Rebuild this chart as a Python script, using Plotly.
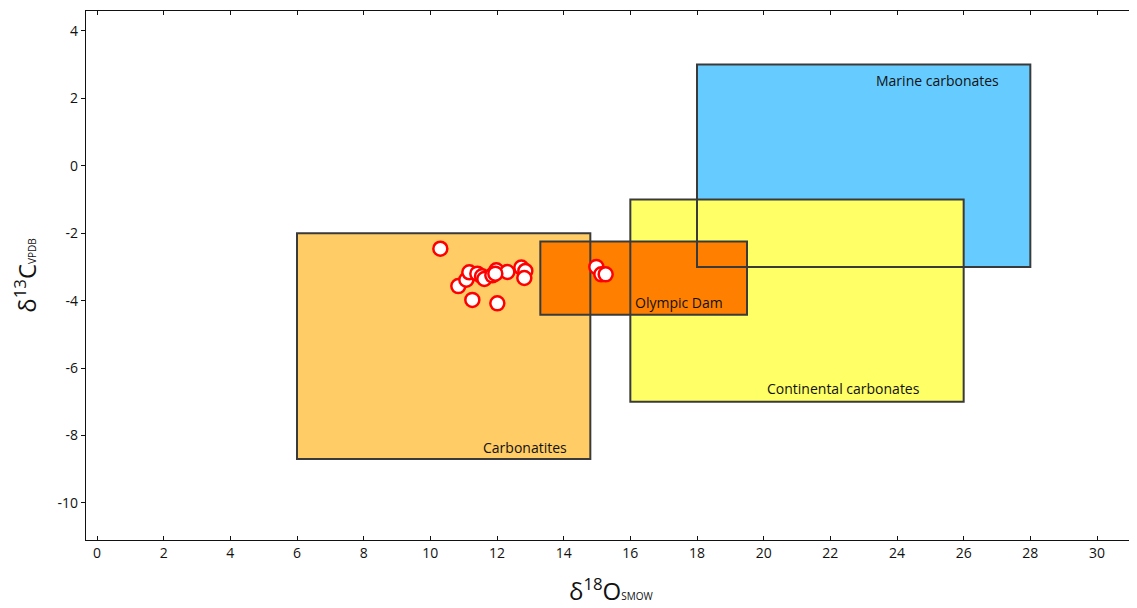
import plotly.graph_objects as go

# Sample data (d18O SMOW, d13C VPDB)
d18O = [10.30, 10.84, 11.08, 11.17, 11.41, 11.26, 11.55, 11.62, 11.86, 11.98,
        12.01, 12.31, 12.73, 12.85, 12.82, 14.98, 15.13, 15.26, 11.95]
d13C = [-2.46, -3.57, -3.38, -3.16, -3.20, -3.98, -3.28, -3.36, -3.25, -3.10,
        -4.08, -3.15, -3.02, -3.12, -3.33, -3.00, -3.22, -3.22, -3.20]

# Reference fields: name, x0, x1, y0, y1, colour
field_names = ["Carbonatites", "Marine carbonates", "Continental carbonates", "Olympic Dam"]
field_x0 = [6.0, 18.0, 16.0, 13.3]
field_x1 = [14.8, 28.0, 26.0, 19.5]
field_y0 = [-8.7, -3.0, -7.0, -4.42]
field_y1 = [-2.0, 3.0, -1.0, -2.25]
field_colors = ["#FFCC66", "#66CCFF", "#FFFF66", "#FF8000"]
label_x = [12.84, 25.2, 22.38, 17.46]
label_y = [-8.35, 2.52, -6.62, -4.07]

x_ticks = list(range(0, 31, 2))
y_ticks = list(range(-10, 5, 2))
y_ticktext = [str(v) for v in y_ticks]  # hyphen minus, as in the reference

x_title = "δ<sup>18</sup>O<span style='font-size:10px'>SMOW</span>"
y_title = "δ<sup>13</sup>C<span style='font-size:10px'>VPDB</span>"

shapes = []
for x0, x1, y0, y1, c in zip(field_x0, field_x1, field_y0, field_y1, field_colors):
    shapes.append(dict(type="rect", xref="x", yref="y", x0=x0, x1=x1, y0=y0, y1=y1,
                       fillcolor=c, line=dict(width=0), layer="below"))
for x0, x1, y0, y1 in zip(field_x0, field_x1, field_y0, field_y1):
    shapes.append(dict(type="rect", xref="x", yref="y", x0=x0, x1=x1, y0=y0, y1=y1,
                       fillcolor="rgba(0,0,0,0)", line=dict(color="#3a3a3a", width=2),
                       layer="below"))

annotations = [dict(x=lx, y=ly, xref="x", yref="y", text=n, showarrow=False,
                    font=dict(family="Open Sans", size=14, color="#111"))
               for n, lx, ly in zip(field_names, label_x, label_y)]
# x-axis title placed as a paper annotation so it can sit lower, as in the reference
annotations.append(dict(x=0.5, y=-0.094, xref="paper", yref="paper", text=x_title,
                        showarrow=False, yanchor="middle",
                        font=dict(family="Open Sans", size=24, color="#111")))

fig = go.Figure()
fig.add_trace(go.Scatter(x=d18O, y=d13C, mode="markers",
                         marker=dict(size=14, color="white",
                                     line=dict(color="#FF0000", width=2.5)),
                         showlegend=False, hoverinfo="x+y"))

# page body has an 8px default margin; offset the figure so the plot lands where the reference has it
fig.update_layout(
    width=1129, height=600,
    margin=dict(l=78, r=0, t=3, b=68),
    paper_bgcolor="white", plot_bgcolor="white",
    shapes=shapes, annotations=annotations,
    font=dict(family="Open Sans", color="#111"),
    xaxis=dict(range=[-0.33, 31.2], tickmode="array", tickvals=x_ticks,
               showgrid=False, zeroline=False, showline=True, linecolor="#111",
               linewidth=1.2, mirror="ticks", ticks="inside", ticklen=4,
               tickcolor="#111", tickfont=dict(size=14), automargin=False),
    yaxis=dict(range=[-11.1, 4.59], tickmode="array", tickvals=y_ticks,
               ticktext=y_ticktext, automargin=False,
               showgrid=False, zeroline=False, showline=True, linecolor="#111",
               linewidth=1.2, ticks="outside", ticklen=4, tickcolor="#111",
               tickfont=dict(size=14),
               title=dict(text=y_title, font=dict(size=24), standoff=25)),
)

fig.write_html("out.html")
